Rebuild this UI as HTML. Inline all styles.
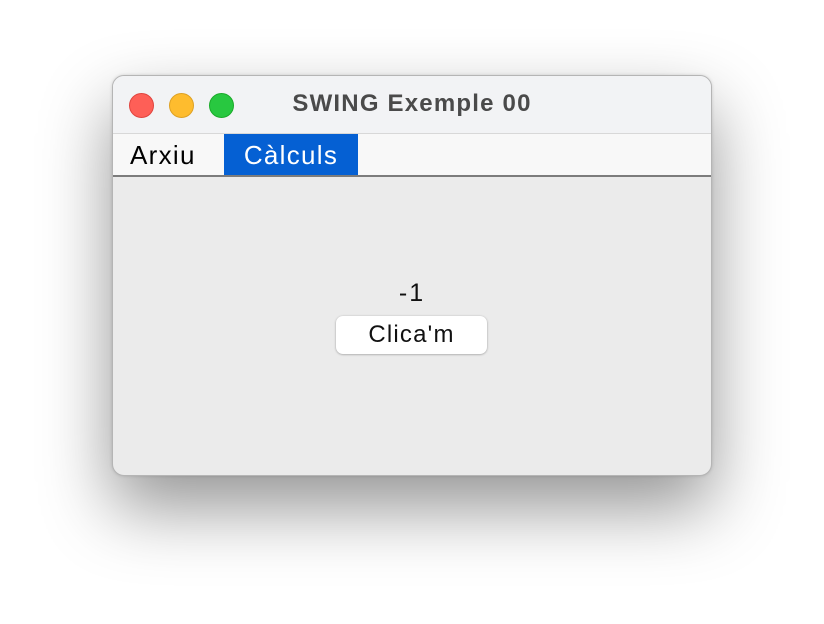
<!DOCTYPE html>
<html><head><meta charset="utf-8"><style>
html,body{margin:0;padding:0;width:824px;height:624px;background:#fff;overflow:hidden;font-family:"Liberation Sans",sans-serif}
.win{position:absolute;left:112px;top:75px;width:598px;height:399px;border:1px solid #b5b5b5;border-radius:12px;background:#ebebeb;overflow:hidden;box-shadow:0 32px 70px rgba(0,0,0,0.42),0 0 3px rgba(0,0,0,0.15)}
.title{position:absolute;left:0;top:0;width:100%;height:57px;background:#f2f3f5;border-bottom:1px solid #d8d8d8}
.dot{position:absolute;top:17px;width:23px;height:23px;border-radius:50%}
.t{position:absolute;left:0;width:598px;top:14px;text-align:center;font-weight:bold;font-size:24px;letter-spacing:1.2px;color:#4a4a4a}
.menu{position:absolute;left:0;top:58px;width:100%;height:41px;background:#f8f8f8;border-bottom:2px solid #7c7c7c}
.mi{position:absolute;top:0;height:41px;line-height:42px;font-size:26px;letter-spacing:1.3px}
.lbl{position:absolute;left:0;width:598px;top:203px;text-align:center;font-size:25px;letter-spacing:2px;color:#111}
.btn{position:absolute;left:223px;top:240px;width:151px;height:38px;background:#fff;border-radius:7px;box-shadow:0 0.5px 2px rgba(0,0,0,0.35);text-align:center;line-height:38px;font-size:24px;letter-spacing:1.2px;color:#111}
</style></head><body>
<div class="win">
 <div class="title">
  <div class="dot" style="left:16px;background:#fe5f57;border:0.5px solid #e0443e"></div>
  <div class="dot" style="left:56px;background:#febc2e;border:0.5px solid #dea123"></div>
  <div class="dot" style="left:96px;background:#28c840;border:0.5px solid #1aab29"></div>
  <div class="t">SWING Exemple 00</div>
 </div>
 <div class="menu">
  <div class="mi" style="left:17px;color:#000">Arxiu</div>
  <div class="mi" style="left:111px;width:134px;background:#0560d3;color:#fff;text-align:center">Càlculs</div>
 </div>
 <div class="lbl">-1</div>
 <div class="btn">Clica'm</div>
</div>
</body></html>
